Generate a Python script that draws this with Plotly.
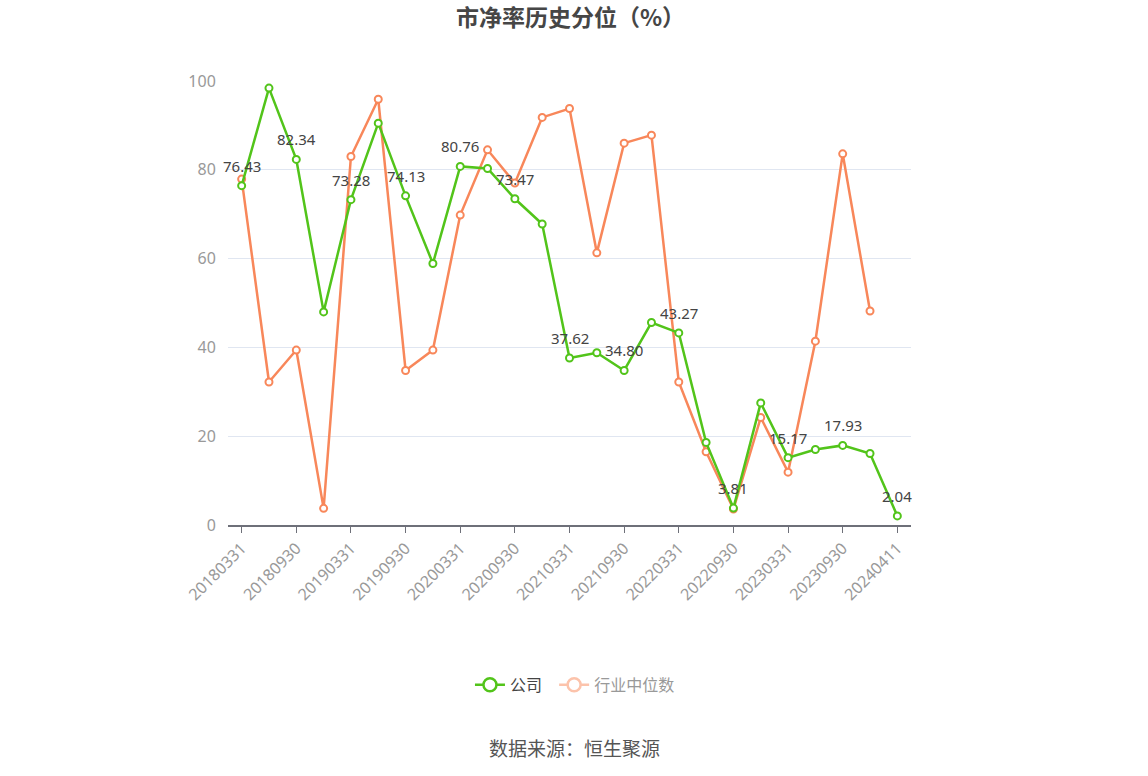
import plotly.graph_objects as go

dates = ["20180331", "20180630", "20180930", "20181231", "20190331", "20190630",
         "20190930", "20191231", "20200331", "20200630", "20200930", "20201231",
         "20210331", "20210630", "20210930", "20211231", "20220331", "20220630",
         "20220930", "20221231", "20230331", "20230630", "20230930", "20231231",
         "20240411"]
company = [76.43, 98.4, 82.34, 48.0, 73.28, 90.5, 74.13, 58.9, 80.76, 80.3,
           73.47, 67.8, 37.62, 38.8, 34.80, 45.6, 43.27, 18.6, 3.81, 27.5,
           15.17, 17.0, 17.93, 16.1, 2.04]
industry = [77.9, 32.2, 39.4, 3.75, 83.0, 95.9, 34.8, 39.4, 69.8, 84.5,
            77.0, 91.8, 93.8, 61.3, 86.0, 87.8, 32.2, 16.5, 3.6, 24.2,
            11.9, 41.4, 83.6, 48.2, None]
label_idx = list(range(0, 25, 2))
tick_labels = dates[::2]

GREEN = "#52c41a"
ORANGE = "#f8875a"
FONT = "Noto Sans CJK SC"
NUMFONT = "Noto Sans, Noto Sans CJK SC"

fig = go.Figure()
fig.add_trace(go.Scatter(
    x=dates, y=industry, mode="lines+markers", name="行业中位数", showlegend=False,
    line=dict(color=ORANGE, width=2.5),
    marker=dict(symbol="circle", size=7, color="white", line=dict(color=ORANGE, width=2)),
    connectgaps=False,
))
fig.add_trace(go.Scatter(
    x=dates, y=company, mode="lines+markers", name="公司", showlegend=False,
    line=dict(color=GREEN, width=2.5),
    marker=dict(symbol="circle", size=7, color="white", line=dict(color=GREEN, width=2)),
))
# legend proxies
fig.add_trace(go.Scatter(
    x=[None], y=[None], mode="lines+markers", name="公司  ",
    line=dict(color=GREEN, width=2.5),
    marker=dict(symbol="circle", size=13, color="white", line=dict(color=GREEN, width=2.5)),
))
fig.add_trace(go.Scatter(
    x=[None], y=[None], mode="lines+markers",
    name="<span style='color:#999999'>行业中位数</span>",
    line=dict(color="#fcc3ab", width=2.5),
    marker=dict(symbol="circle", size=13, color="white", line=dict(color="#fcc3ab", width=2.5)),
))

annotations = []
for i in label_idx:
    annotations.append(dict(
        x=i, y=company[i], xref="x", yref="y",
        text=f"{company[i]:.2f}", showarrow=False, yshift=20,
        font=dict(family=NUMFONT, size=15, color="#444444"),
    ))
annotations.append(dict(
    x=0.5066, y=-0.5, xref="paper", yref="paper", yanchor="middle",
    text="数据来源：恒生聚源", showarrow=False,
    font=dict(family=FONT, size=19, color="#555555"),
))

fig.update_layout(
    width=1148, height=776,
    margin=dict(l=228, r=237, t=81, b=251, autoexpand=False),
    paper_bgcolor="white", plot_bgcolor="white",
    font=dict(family=FONT, color="#999999"),
    title=dict(text="<b>市净率历史分位（%）</b>", x=0.497, xref="container", xanchor="center",
               y=0.977, yref="container", yanchor="middle",
               font=dict(family=FONT, size=23, color="#464646")),
    xaxis=dict(
        type="category", categoryorder="array", categoryarray=dates,
        range=[-0.5, 24.5], tickmode="array", tickvals=tick_labels, ticktext=tick_labels,
        tickangle=-45, ticks="outside", ticklen=6, tickcolor="#6e7079",
        showline=True, linecolor="#6e7079", linewidth=1.5,
        showgrid=False, zeroline=False,
        tickfont=dict(family=NUMFONT, size=16, color="#999999"),
    ),
    yaxis=dict(
        range=[0, 100], tickvals=[0, 20, 40, 60, 80, 100],
        showgrid=True, gridcolor="#e0e6f1", gridwidth=1, zeroline=False,
        showline=False, ticks="outside", ticklen=8, tickcolor="rgba(0,0,0,0)",
        tickfont=dict(family=NUMFONT, size=16, color="#999999"),
    ),
    legend=dict(orientation="h", x=0.508, xref="paper", xanchor="center",
                y=-0.36, yref="paper", yanchor="middle",
                font=dict(family=FONT, size=16, color="#444444")),
    annotations=annotations,
    showlegend=True,
)

fig.write_html("out.html")
